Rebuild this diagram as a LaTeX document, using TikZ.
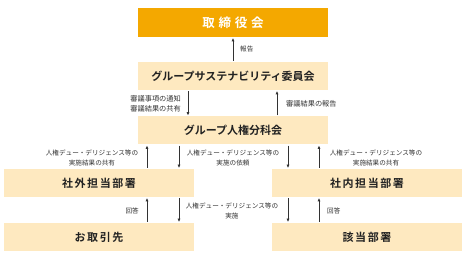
\documentclass[tikz,border=0pt]{standalone}
\usepackage{fontspec}
\usepackage{tikz}
\usetikzlibrary{arrows.meta}
\newfontfamily\jp{Noto Sans CJK JP}[BoldFont={Noto Sans CJK JP Bold}]
\definecolor{board}{RGB}{244, 168, 0}
\definecolor{unit}{RGB}{254, 233, 192}
\definecolor{ink}{RGB}{34, 34, 34}
\definecolor{note}{RGB}{50, 50, 50}
\tikzset{
    box/.style={rectangle, minimum width=190pt, minimum height=28pt, inner sep=0pt, align=center, text=ink, font=\jp\bfseries\fontsize{11}{13}\selectfont},
    unitbox/.style={box, fill=unit},
    topbox/.style={box, fill=board, text=white, minimum height=29pt, font=\jp\bfseries\fontsize{12.5}{14}\selectfont\addfontfeature{LetterSpace=30}},
    wide/.style={font=\jp\bfseries\fontsize{11}{13}\selectfont\addfontfeature{LetterSpace=14}},
    lbl/.style={inner sep=0pt, align=center, text=note, font=\jp\fontsize{6.6}{10}\selectfont},
    biglbl/.style={lbl, font=\jp\fontsize{7.2}{10}\selectfont},
    arr/.style={-{Triangle[length=3.2pt, width=2.6pt]}, line width=0.8pt, draw=note, shorten >=1pt, shorten <=1pt}
}
\begin{document}
\begin{tikzpicture}[x=1pt, y=-1pt]
    \useasboundingbox (0,0) rectangle (467,262);

    \node[topbox] (board) at (233,22.5) {取締役会};
    \node[unitbox] (susc) at (233,76) {グループサステナビリティ委員会};
    \node[unitbox] (hrsub) at (233,130.5) {グループ人権分科会};
    \node[unitbox, wide] (outer) at (99,183) {社外担当部署};
    \node[unitbox, wide] (inner) at (367,183) {社内担当部署};
    \node[unitbox, wide] (supplier) at (99,237) {お取引先};
    \node[unitbox, wide] (dept) at (367,237) {該当部署};

    \draw[arr] (susc.north) -- (board.south);
    \draw[arr] ([xshift=-45pt]susc.south) -- ([xshift=-45pt]hrsub.north);
    \draw[arr] ([xshift=44pt]hrsub.north) -- ([xshift=44pt]susc.south);
    \draw[arr] ([xshift=48pt]outer.north) -- ([xshift=-86pt]hrsub.south);
    \draw[arr] ([xshift=-54pt]hrsub.south) -- ([xshift=80pt]outer.north);
    \draw[arr] ([xshift=55pt]hrsub.south) -- ([xshift=-79pt]inner.north);
    \draw[arr] ([xshift=-48pt]inner.north) -- ([xshift=86pt]hrsub.south);
    \draw[arr] ([xshift=48pt]supplier.north) -- ([xshift=48pt]outer.south);
    \draw[arr] ([xshift=80pt]outer.south) -- ([xshift=80pt]supplier.north);
    \draw[arr] ([xshift=-79pt]inner.south) -- ([xshift=-79pt]dept.north);
    \draw[arr] ([xshift=-48pt]dept.north) -- ([xshift=-48pt]inner.south);

    \node[lbl, anchor=west] (rep) at (240,49) {報告};
    \node[biglbl, anchor=east] (notify) at (181,104) {審議事項の通知\\審議結果の共有};
    \node[biglbl, anchor=west] (result) at (286,104) {審議結果の報告};
    \node[lbl] (shareout) at (92,158) {人権デュー・デリジェンス等の\\実施結果の共有};
    \node[lbl] (request) at (233,158) {人権デュー・デリジェンス等の\\実施の依頼};
    \node[lbl] (sharein) at (376,158) {人権デュー・デリジェンス等の\\実施結果の共有};
    \node[lbl, anchor=east] (ansout) at (139,211) {回答};
    \node[lbl] (implement) at (232,211) {人権デュー・デリジェンス等の\\実施};
    \node[lbl, anchor=west] (ansin) at (327,211) {回答};
\end{tikzpicture}
\end{document}
